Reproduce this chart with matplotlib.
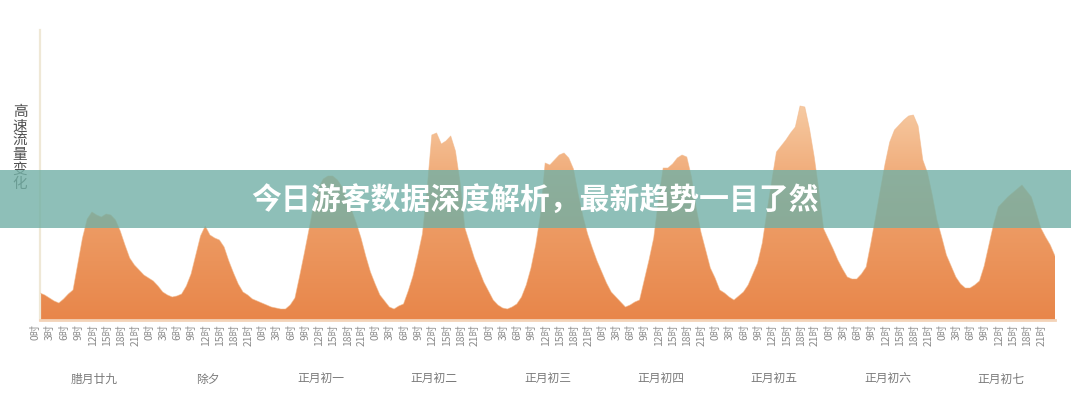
import numpy as np
import matplotlib
matplotlib.use("Agg")
import matplotlib.pyplot as plt
import matplotlib.transforms as mtransforms
from matplotlib.colors import LinearSegmentedColormap
from matplotlib.patches import Rectangle

plt.rcParams['font.family'] = ['Noto Sans CJK SC', 'DejaVu Sans']

# 各日の時間別高速流量（0時〜23時）
la29 = [27, 25, 22, 19, 17, 21, 26, 30, 56, 82, 101, 108, 105, 103, 106, 105, 100, 89, 75, 62, 55, 50, 45, 42]
chuxi = [39, 34, 28, 25, 23, 24, 26, 34, 46, 65, 84, 94, 85, 82, 80, 73, 59, 47, 36, 28, 25, 21, 19, 17]
chu1 = [15, 13, 12, 11, 11, 15, 22, 44, 67, 91, 116, 132, 141, 144, 144, 140, 133, 122, 110, 97, 82, 64, 48, 36]
chu2 = [25, 19, 13, 11, 14, 16, 29, 44, 64, 86, 131, 185, 187, 176, 179, 184, 169, 137, 92, 77, 62, 50, 38, 29]
chu3 = [20, 15, 12, 11, 13, 16, 23, 35, 52, 75, 105, 157, 155, 160, 165, 167, 162, 151, 126, 104, 86, 72, 59, 48]
chu4 = [37, 28, 23, 18, 13, 15, 18, 20, 40, 60, 82, 120, 152, 152, 156, 162, 165, 163, 143, 112, 88, 70, 52, 42]
chu5 = [30, 27, 23, 20, 24, 28, 35, 46, 57, 77, 109, 139, 168, 174, 180, 187, 193, 214, 213, 191, 163, 129, 91, 81]
chu6 = [71, 60, 51, 43, 41, 41, 46, 53, 77, 103, 130, 156, 178, 190, 195, 200, 204, 205, 194, 160, 147, 125, 100, 83]
chu7 = [65, 54, 43, 36, 32, 32, 35, 39, 54, 75, 96, 113, 118, 123, 127, 131, 135, 129, 123, 108, 92, 83, 75, 64]

days = ['腊月廿九', '除夕', '正月初一', '正月初二', '正月初三',
        '正月初四', '正月初五', '正月初六', '正月初七']
tick_hours = [0, 3, 6, 9, 12, 15, 18, 21]
ylabel = '高速流量变化'
banner_title = '今日游客数据深度解析，最新趋势一目了然'

flow = np.array(la29 + chuxi + chu1 + chu2 + chu3 + chu4 + chu5 + chu6 + chu7, dtype=float)
hours = np.arange(len(flow))

fig = plt.figure(figsize=(10.71, 4.0), dpi=100)
ax = fig.add_axes([40 / 1071, 80 / 400, 1015 / 1071, 290 / 400])

ymax = 290
xmax = hours[-1]

# グラデーション塗り
cmap = LinearSegmentedColormap.from_list('flow', ['#e8864a', '#eea06a', '#f8d3ae'])
grad = np.linspace(0, 1, 256).reshape(-1, 1)
poly = ax.fill_between(hours, flow, 0, color='none', lw=0)
img = ax.imshow(grad, extent=[0, xmax, 0, 235], origin='lower', aspect='auto',
                cmap=cmap, zorder=2)
img.set_clip_path(poly.get_paths()[0], transform=ax.transData)
ax.plot(hours, flow, color='#f2b88a', lw=0.6, alpha=0.6, zorder=3)

ax.set_xlim(0, xmax)
ax.set_ylim(0, ymax)

# 軸の体裁
for side in ['top', 'right']:
    ax.spines[side].set_visible(False)
ax.spines['left'].set_color('#efe8d6')
ax.spines['left'].set_linewidth(1.6)
ax.spines['bottom'].set_color('#f3d3b8')
ax.spines['bottom'].set_linewidth(2)
ax.set_yticks([])

ticks = [d * 24 + h for d in range(len(days)) for h in tick_hours]
labels = [f'{h}时' for d in range(len(days)) for h in tick_hours]
ax.set_xticks(ticks)
ax.set_xticklabels(labels, rotation=90, fontsize=7.4, color='#8a8a8a')
ax.tick_params(axis='x', length=0, pad=3)
shift = mtransforms.ScaledTranslation(-0.04, 0, fig.dpi_scale_trans)
for lab in ax.get_xticklabels():
    lab.set_transform(lab.get_transform() + shift)

for i, name in enumerate(days):
    ax.text(i * 24 + 11.5, -0.205, name, transform=ax.get_xaxis_transform(),
            ha='center', va='center', fontsize=8.5, color='#7a7a7a')

fig.text(20 / 1071, 1 - 148 / 400, '\n'.join(ylabel), ha='center', va='center',
         fontsize=10.5, color='#505050', linespacing=1.02)

# 中央のバナー
fig.patches.append(Rectangle((0, 1 - 228 / 400), 1, 58 / 400, transform=fig.transFigure,
                             facecolor='#72b0a6', alpha=0.8, edgecolor='none', zorder=5))
fig.text(0.5, 1 - 200 / 400, banner_title, ha='center', va='center', fontsize=21.5,
         fontweight='black', color='white', zorder=6)

fig.savefig('out.png', dpi=100)
